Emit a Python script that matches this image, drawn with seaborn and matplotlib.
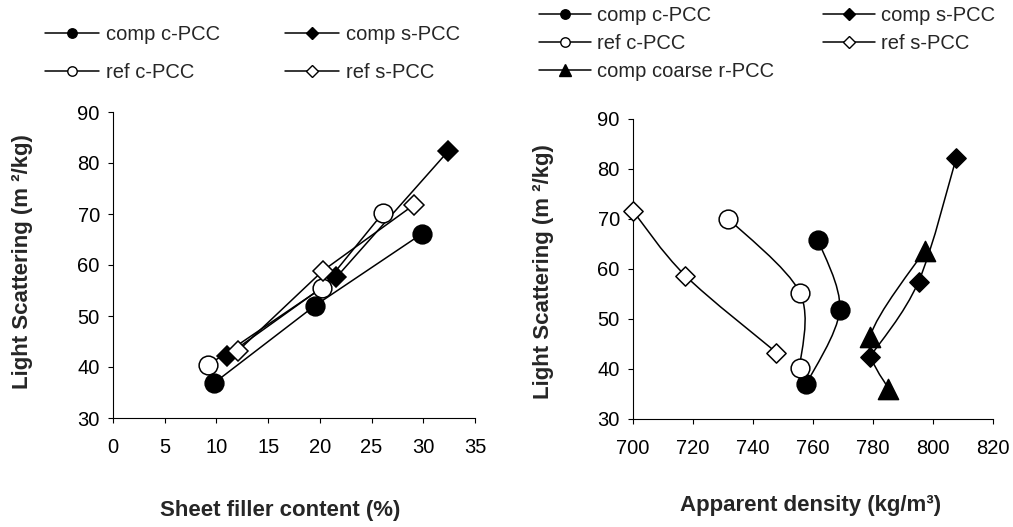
import numpy as np
import pandas as pd
import seaborn as sns
import matplotlib
matplotlib.use("Agg")
import matplotlib.pyplot as plt
from matplotlib.lines import Line2D
from matplotlib.path import Path
from matplotlib.patches import PathPatch

# ---------------- data ----------------
series_names = ["comp c-PCC", "comp s-PCC", "ref c-PCC", "ref s-PCC", "comp coarse r-PCC"]

# left panel: sheet filler content (%) vs light scattering (m2/kg)
filler_comp_c = [9.8, 19.5, 29.85]
ls_comp_c_l = [36.9, 52.0, 66.1]
filler_comp_s = [11.0, 21.6, 32.4]
ls_comp_s_l = [42.2, 57.6, 82.3]
filler_ref_c = [9.15, 20.2, 26.1]
ls_ref_c_l = [40.3, 55.5, 70.2]
filler_ref_s = [12.06, 20.3, 29.1]
ls_ref_s_l = [43.1, 58.9, 71.8]

# right panel: apparent density (kg/m3) vs light scattering (m2/kg)
dens_comp_c = [757.8, 768.9, 761.7]
ls_comp_c_r = [37.0, 51.8, 65.8]
dens_comp_s = [779.1, 795.2, 807.8]
ls_comp_s_r = [42.5, 57.5, 82.3]
dens_ref_c = [755.6, 755.6, 731.7]
ls_ref_c_r = [40.3, 55.3, 70.1]
dens_ref_s = [747.8, 717.4, 700.0]
ls_ref_s_r = [43.3, 58.7, 71.6]
dens_coarse = [785.0, 779.1, 797.2]
ls_coarse_r = [36.1, 46.5, 63.7]

left_xticks = [0, 5, 10, 15, 20, 25, 30, 35]
right_xticks = [700, 720, 740, 760, 780, 800, 820]
y_ticks = [30, 40, 50, 60, 70, 80, 90]

# ---------------- style ----------------
sns.set_style("ticks")
plt.rcParams["font.family"] = ["Liberation Sans", "DejaVu Sans"]
plt.rcParams["axes.linewidth"] = 0.8
plt.rcParams["xtick.major.width"] = 0.8
plt.rcParams["ytick.major.width"] = 0.8
plt.rcParams["xtick.major.size"] = 3.5
plt.rcParams["ytick.major.size"] = 3.5
plt.rcParams["xtick.color"] = "black"
plt.rcParams["ytick.color"] = "black"
plt.rcParams["axes.edgecolor"] = "black"

TICK_FS = 14.5
LABEL_FS = 16
LEG_FS = 14.5

styles = {
    "comp c-PCC": dict(marker="o", ms=13.5, mfc="black"),
    "comp s-PCC": dict(marker="D", ms=9.8, mfc="black"),
    "ref c-PCC": dict(marker="o", ms=13.5, mfc="white"),
    "ref s-PCC": dict(marker="D", ms=9.8, mfc="white"),
    "comp coarse r-PCC": dict(marker="^", ms=14.5, mfc="black"),
}
leg_ms = {"o": 6.8, "D": 5.8, "^": 8.0}

fig = plt.figure(figsize=(10.13, 5.27), dpi=100)
W, H = 1013, 527
axL = fig.add_axes([113 / W, 1 - 418 / H, (475 - 113) / W, (418 - 112) / H])
axR = fig.add_axes([633 / W, 1 - 419 / H, (993 - 633) / W, (419 - 119) / H])

# ---------------- left panel ----------------
left_data = [
    ("comp c-PCC", filler_comp_c, ls_comp_c_l),
    ("comp s-PCC", filler_comp_s, ls_comp_s_l),
    ("ref c-PCC", filler_ref_c, ls_ref_c_l),
    ("ref s-PCC", filler_ref_s, ls_ref_s_l),
]
for z, (name, xs, ys) in enumerate(left_data):
    st = styles[name]
    df = pd.DataFrame({"x": xs, "y": ys})
    sns.lineplot(data=df, x="x", y="y", ax=axL, sort=False, estimator=None,
                 color="black", linewidth=1.1, marker=st["marker"],
                 markersize=st["ms"], markerfacecolor=st["mfc"],
                 markeredgecolor="black", markeredgewidth=1.1, zorder=3 + z,
                 clip_on=False)

axL.set_xlim(0, 35)
axL.set_ylim(30, 90)
axL.set_xticks(left_xticks)
axL.set_yticks(y_ticks)

# ---------------- right panel ----------------
def smooth_path(xs, ys):
    P = np.column_stack([xs, ys]).astype(float)
    n = len(P)
    verts = [P[0]]
    codes = [Path.MOVETO]
    for i in range(n - 1):
        p0 = P[i - 1] if i > 0 else P[i]
        p3 = P[i + 2] if i + 2 < n else P[i + 1]
        c1 = P[i] + (P[i + 1] - p0) / 6.0
        c2 = P[i + 1] - (p3 - P[i]) / 6.0
        verts += [c1, c2, P[i + 1]]
        codes += [Path.CURVE4] * 3
    return Path(verts, codes)

right_data = [
    ("comp c-PCC", dens_comp_c, ls_comp_c_r),
    ("comp s-PCC", dens_comp_s, ls_comp_s_r),
    ("ref c-PCC", dens_ref_c, ls_ref_c_r),
    ("ref s-PCC", dens_ref_s, ls_ref_s_r),
    ("comp coarse r-PCC", dens_coarse, ls_coarse_r),
]
for z, (name, xs, ys) in enumerate(right_data):
    st = styles[name]
    patch = PathPatch(smooth_path(xs, ys), facecolor="none", edgecolor="black",
                      linewidth=1.1, zorder=2 + 2 * z, clip_on=False)
    axR.add_patch(patch)
    df = pd.DataFrame({"x": xs, "y": ys})
    sns.scatterplot(data=df, x="x", y="y", ax=axR, marker=st["marker"],
                    s=st["ms"] ** 2, color=st["mfc"], edgecolor="black",
                    linewidth=1.1, zorder=3 + 2 * z, legend=False, clip_on=False)

axR.set_xlim(700, 820)
axR.set_ylim(30, 90)
axR.set_xticks(right_xticks)
axR.set_yticks(y_ticks)

# ---------------- axes cosmetics ----------------
for ax in (axL, axR):
    sns.despine(ax=ax)
    ax.tick_params(axis="both", direction="out", labelsize=TICK_FS, colors="black")
    ax.tick_params(axis="x", pad=11)
    ax.tick_params(axis="y", pad=6)
    ax.set_ylabel("Light Scattering (m ²/kg)", fontsize=LABEL_FS, fontweight="bold")
    ax.yaxis.label.set_va("center")

axL.set_xlabel("Sheet filler content (%)", fontsize=LABEL_FS, fontweight="bold")
axR.set_xlabel("Apparent density (kg/m³)", fontsize=LABEL_FS, fontweight="bold")
axL.xaxis.label.set_va("center")
axR.xaxis.label.set_va("center")
axL.xaxis.set_label_coords(0.463, -0.303)
axR.xaxis.set_label_coords(0.494, -0.29)
axL.yaxis.set_label_coords(-0.249, 0.51)
axR.yaxis.set_label_coords(-0.25, 0.49)

# ---------------- legends ----------------
def handle(name):
    st = styles[name]
    return Line2D([], [], color="black", linewidth=1.1, marker=st["marker"],
                  markersize=leg_ms[st["marker"]], markerfacecolor=st["mfc"],
                  markeredgecolor="black", markeredgewidth=1.0)

left_order = ["comp c-PCC", "ref c-PCC", "comp s-PCC", "ref s-PCC"]
fig.legend([handle(n) for n in left_order], left_order, loc="upper left",
           bbox_to_anchor=(45 / W, 1 - 25 / H), ncol=2, frameon=False,
           fontsize=LEG_FS, handlelength=2.7, handletextpad=0.33,
           columnspacing=3.2, labelspacing=0.95, borderpad=0, borderaxespad=0)

right_order = ["comp c-PCC", "ref c-PCC", "comp coarse r-PCC", "comp s-PCC", "ref s-PCC"]
fig.legend([handle(n) for n in right_order], right_order, loc="upper left",
           bbox_to_anchor=(539 / W, 1 - 6 / H), ncol=2, frameon=False,
           fontsize=LEG_FS, handlelength=2.6, handletextpad=0.3,
           columnspacing=2.4, labelspacing=0.45, borderpad=0, borderaxespad=0)

fig.savefig("out.png", dpi=100)
